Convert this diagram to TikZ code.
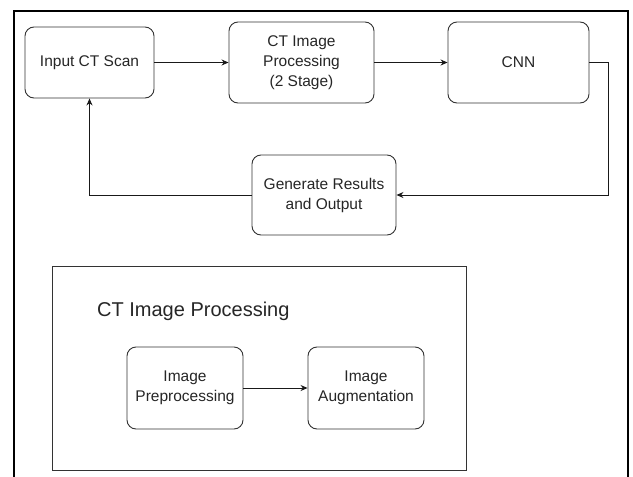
\documentclass[tikz,border=0pt]{standalone}
\usepackage{fontspec}
\setmainfont{Liberation Sans}
\usetikzlibrary{arrows.meta}
\begin{document}
\begin{tikzpicture}[x=1pt,y=-1pt,
  box/.style={draw=black!80, line width=0.9pt, rounded corners=9pt, align=center,
    text=black!85, font=\fontsize{15.5}{20}\selectfont, inner sep=2pt},
  conn/.style={line width=0.9pt, draw=black!90, -{Stealth[length=7pt,width=6pt]}},
  frame/.style={line width=2.6pt, draw=black}]
\useasboundingbox (0,0) rectangle (633,477);
\fill[white] (0,0) rectangle (633,477);
\draw[frame] (14,482) -- (14,11) -- (628,11) -- (628,482);

\node[box, minimum width=129pt, minimum height=71pt] (inp) at (89.5,62.5) {Input CT Scan};
\node[box, minimum width=145pt, minimum height=81pt] (ctip) at (301.5,62.5) {CT Image\\Processing\\(2 Stage)};
\node[box, minimum width=141pt, minimum height=81pt] (cnn) at (518.5,62.5) {CNN};
\node[box, minimum width=144pt, minimum height=80pt] (gen) at (324,195) {Generate Results\\and Output};

\coordinate (turn) at (608,62.5);
\draw[conn] (inp) -- (ctip);
\draw[conn] (ctip) -- (cnn);
\draw[conn] (cnn.east) -- (turn) |- (gen.east);
\draw[conn] (gen.west) -| (inp.south);

\node[draw=black!80, line width=0.9pt, minimum width=414pt, minimum height=204pt, anchor=north west] (sub) at (52,266) {};
\node[anchor=base west, text=black!85, font=\fontsize{20}{24}\selectfont, inner sep=0pt] (title) at (97,316) {CT Image Processing};
\node[box, minimum width=116pt, minimum height=82pt] (pre) at (185,388) {Image\\Preprocessing};
\node[box, minimum width=116pt, minimum height=82pt] (aug) at (366,388) {Image\\Augmentation};
\draw[conn] (pre) -- (aug);
\end{tikzpicture}
\end{document}
